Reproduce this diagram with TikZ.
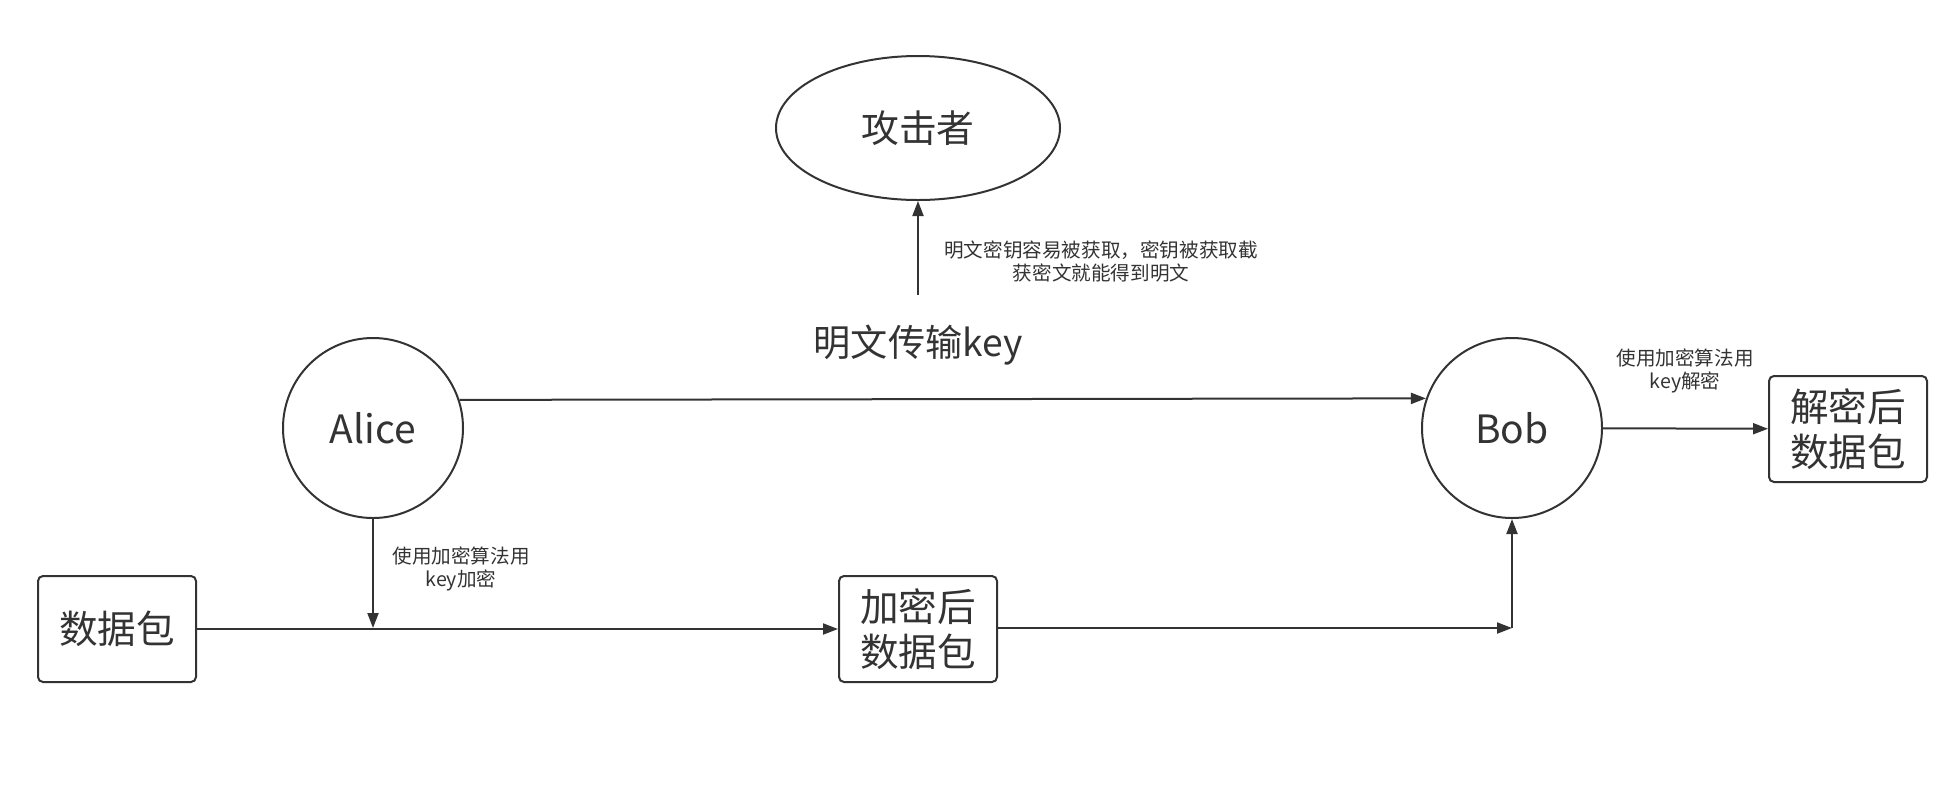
\documentclass[tikz,border=0pt]{standalone}
\usepackage{fontspec}
\setmainfont{Noto Sans CJK SC}
\usetikzlibrary{arrows.meta,shapes.geometric}
\begin{document}
\begin{tikzpicture}[
    x=0.5pt,y=-0.5pt,
    line width=1pt,draw=black!80,
    every node/.style={text=black!80},
    party/.style={circle,draw,minimum size=90pt,inner sep=0pt,font=\fontsize{19.5}{24}\selectfont},
    pkt/.style={rectangle,draw,rounded corners=2.5pt,minimum width=79pt,minimum height=53pt,
        inner sep=0pt,align=center,font=\fontsize{19.3}{22.5}\selectfont},
    note/.style={align=center,font=\fontsize{9.8}{11.5}\selectfont},
    arr/.style={-{Triangle[length=7.5pt,width=5.5pt]}}]
    \useasboundingbox (0,0) rectangle (1948,794);
    \node[ellipse,draw,minimum width=142pt,minimum height=72pt,
        font=\fontsize{18.9}{22}\selectfont] (attacker) at (918,128) {攻击者};
    \node[font=\fontsize{18.6}{22}\selectfont] (plainkey) at (918,345) {明文传输key};
    \node[party] (alice) at (373,428) {Alice};
    \node[party] (bob) at (1512,428) {Bob};
    \node[pkt] (rawpkt) at (117,629) {数据包};
    \node[pkt] (encpkt) at (918,629) {加密后\\数据包};
    \node[pkt] (decpkt) at (1848,429) {解密后\\数据包};
    \coordinate (leak) at (918,295);
    \coordinate (mix) at (373,628);
    \coordinate (turn) at (1512,628);
    % key travels in clear
    \draw[arr] (leak) -- (attacker);
    \draw[arr] (alice.18.8) -- (bob.161.2);
    % packet path
    \draw[arr] (alice) -- (mix);
    \draw[arr] (rawpkt) -- (encpkt);
    \draw[arr] (encpkt.east |- turn) -- (turn);
    \draw[arr] (turn) -- (bob);
    \draw[arr] (bob) -- (decpkt);
    \node[note] (leaknote) at (1101,262) {明文密钥容易被获取，密钥被获取截\\获密文就能得到明文};
    \node[note] (encnote) at (461,569) {使用加密算法用\\key加密};
    \node[note] (decnote) at (1685,371) {使用加密算法用\\key解密};
\end{tikzpicture}
\end{document}
